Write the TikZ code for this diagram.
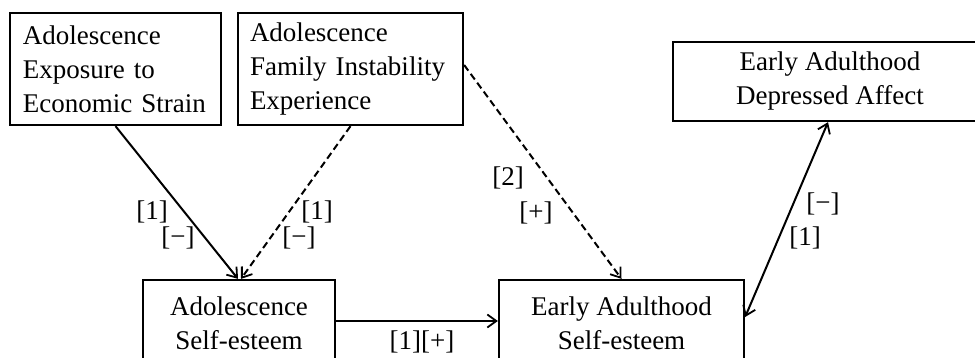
\documentclass[tikz,border=0pt]{standalone}
\usepackage{fontspec}
\setmainfont{Liberation Serif}
\usetikzlibrary{arrows.meta}

\tikzset{
  varbox/.style={draw,line width=2.3pt,inner sep=0pt,minimum height=112pt},
  path line/.style={line width=2pt},
  sign/.style={inner sep=0pt}
}

\begin{document}
\begin{tikzpicture}[x=1pt,y=-1pt,
    >={Straight Barb[length=9pt,width=13pt,line width=1.8pt]},
    every node/.style={font=\fontsize{27}{34}\selectfont}]
      \useasboundingbox (0,0) rectangle (975,358);
      \clip (0,0) rectangle (975,358);

      %%%%%%%%%%%%%%%%%%%%%%%%%%%%%%%%%%%%%%%%%%%%%%%%%%%%%%%%%%%%%%%%%%%%%%%%%%%
      %%%%  Boxes
      \node[varbox,align=left,text width=185pt,inner xsep=13pt] (strain) at (115.5,69)
        {Adolescence\\Exposure to\\Economic Strain};
      \node[varbox,align=left,text width=201pt,inner xsep=12pt] (family) at (350.5,69)
        {Adolescence\\Family Instability\\Experience};
      \node[varbox,align=center,minimum width=314pt,minimum height=79pt] (depress) at (830,81.5)
        {Early Adulthood\\Depressed Affect};
      \node[varbox,align=center,minimum width=192pt,minimum height=86pt] (adolself) at (239,323)
        {Adolescence\\Self-esteem};
      \node[varbox,align=center,minimum width=245pt,minimum height=86pt] (adultself) at (621.5,323)
        {Early Adulthood\\Self-esteem};

      %%%%%%%%%%%%%%%%%%%%%%%%%%%%%%%%%%%%%%%%%%%%%%%%%%%%%%%%%%%%%%%%%%%%%%%%%%%
      %%%%  Paths
      \draw[path line,->] (strain.south) -- ([xshift=-1pt]adolself.north);
      \draw[path line,->,dash pattern=on 7pt off 4pt] (family.south) -- ([xshift=2pt]adolself.north);
      \draw[path line,->,dash pattern=on 7pt off 4pt] ([yshift=4pt]family.east) -- (adultself.north);
      \draw[path line,->] ([yshift=2pt]adolself.east) -- ([yshift=2pt]adultself.west);
      \draw[path line,<->] ([yshift=6pt]adultself.east) -- ([xshift=-2pt]depress.south);

      %%%%  Signs
      \foreach \name/\x/\y/\txt in {sA1/152/212/[1], sA2/178/238/[−],
                                    sB1/317/212/[1], sB2/299/238/[−],
                                    sC1/508/178/[2], sC2/536/213/[+],
                                    sD1/823/204/[−], sD2/805/238/[1],
                                    sE1/422/342/[1][+]}
       {\node[sign] (\name) at (\x,\y) {\txt};}
    \end{tikzpicture}
\end{document}
